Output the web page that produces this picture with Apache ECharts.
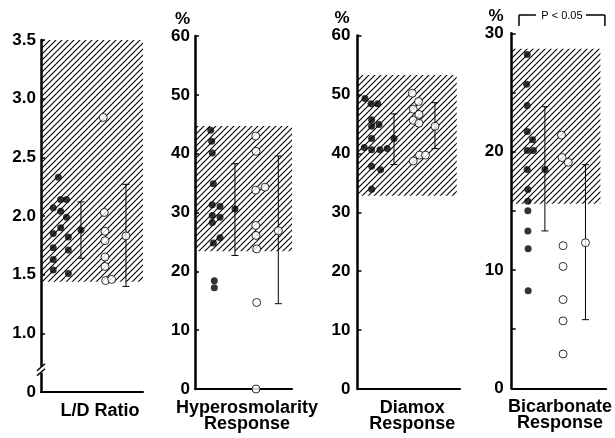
<!DOCTYPE html>
<html><head><meta charset="utf-8">
<script src="https://cdn.jsdelivr.net/npm/echarts@6/dist/echarts.min.js"></script>
<style>html,body{margin:0;padding:0;background:#fff}#c{width:615px;height:438px}</style>
</head><body><div id="c"></div>
<script>
// ---------- DATA ----------
const panelNames = ['L/D Ratio', 'Hyperosmolarity\nResponse', 'Diamox\nResponse', 'Bicarbonate\nResponse'];
// Each point: [column jitter position (0-10), value]
// Panel 1: L/D ratio
const ldFilled = [[1.7,2.33],[1.93,2.14],[2.5,2.14],[1.2,2.07],[1.93,2.04],[2.5,1.99],[1.93,1.90],[1.2,1.85],[2.68,1.82],[1.2,1.73],[2.68,1.71],[1.2,1.63],[1.2,1.54],[2.68,1.51]];
const ldOpen = [[6.1,2.84],[6.2,2.03],[6.27,1.87],[6.27,1.79],[6.27,1.65],[6.27,1.57],[6.34,1.45],[6.93,1.46]];
const ldStats = [[3.92,1.88,1.64,2.12],[8.33,1.83,1.40,2.27]]; // [pos, mean, low, high]
const ldNormal = [1.44, 3.5];
const ldTicks = [0.5, 3.5, 0.5]; // min, max, interval (bottom tick shown as 0 after axis break)
// Panel 2: Hyperosmolarity response (%)
const hyFilled = [[1.62,44.0],[1.72,42.1],[1.78,40.1],[1.89,34.9],[1.78,31.3],[2.58,31.0],[1.78,29.5],[2.58,29.2],[1.78,28.3],[2.58,25.7],[1.89,24.8],[1.99,18.4],[1.99,17.2]];
const hyOpen = [[6.26,43.0],[6.29,40.4],[6.26,33.8],[7.22,34.3],[6.26,27.8],[6.29,26.1],[6.36,23.8],[6.36,14.7],[6.29,0]];
const hyStats = [[4.12,30.6,22.7,38.3],[8.59,26.9,14.5,39.6]];
const hyNormal = [23.4, 44.7];
const hyTicks = [0, 60, 10];
// Panel 3: Diamox response (%)
const dxFilled = [[0.73,49.3],[1.32,48.4],[1.97,48.4],[1.38,45.7],[1.38,44.6],[2.1,44.9],[1.38,42.5],[0.66,41.0],[1.38,40.6],[2.19,40.6],[2.9,40.8],[1.38,37.8],[2.25,37.2],[1.38,33.9]];
const dxOpen = [[5.35,50.2],[5.95,48.8],[5.44,47.5],[6.0,46.6],[5.44,45.6],[6.0,45.1],[5.44,38.7],[6.05,39.7],[6.63,39.7]];
const dxStats = [[3.56,42.5,38.1,46.7],[7.56,44.6,40.8,48.6]];
const dxNormal = [32.8, 53.3];
const dxTicks = [0, 60, 10];
// Panel 4: Bicarbonate response (%)
const bcFilled = [[1.64,28.2],[1.58,25.7],[1.64,23.9],[1.64,21.7],[2.2,21.0],[1.64,20.1],[2.3,20.1],[1.64,18.5],[1.71,16.8],[1.71,15.8],[1.71,15.0],[1.71,13.3],[1.74,11.8],[1.74,8.25]];
const bcOpen = [[5.26,21.4],[5.33,19.5],[5.98,19.1],[5.43,12.05],[5.43,10.3],[5.43,7.5],[5.43,5.7],[5.43,2.9]];
const bcStats = [[3.51,18.5,13.3,23.8],[7.8,12.3,5.8,18.9]];
const bcNormal = [15.6, 28.7];
const bcTicks = [0, 30, 10];
const pText = 'P < 0.05';

// ---------- LAYOUT ----------
const FONT = 'Liberation Sans, Arial, Helvetica, sans-serif';
const grids = [
  {left:41, top:40, width:102, height:352},
  {left:195, top:36, width:97, height:356},
  {left:357.5, top:35.5, width:102.5, height:355.5},
  {left:511.7, top:33.3, width:101.3, height:355}
];
const hatchRight = [10, 10, 9.68, 9.38];
const labelMargin = [5, 5, 7, 8];
const namePad = [[0,0,0,16],[0,0,0,7],[0,0,0,7],[0,0,0,2]];
const pctPad = [5, 5, 8, 8];
const pctGap = [4, 4, 4, 5];
const panels = [
  {filled:ldFilled, open:ldOpen, stats:ldStats, normal:ldNormal, ticks:ldTicks, pct:false},
  {filled:hyFilled, open:hyOpen, stats:hyStats, normal:hyNormal, ticks:hyTicks, pct:true},
  {filled:dxFilled, open:dxOpen, stats:dxStats, normal:dxNormal, ticks:dxTicks, pct:true},
  {filled:bcFilled, open:bcOpen, stats:bcStats, normal:bcNormal, ticks:bcTicks, pct:true, minor:true}
];

function hatchCanvas(){
  const s = 6, c = document.createElement('canvas');
  c.width = s; c.height = s;
  const g = c.getContext('2d');
  g.strokeStyle = '#000'; g.lineWidth = 1.1;
  g.beginPath();
  g.moveTo(0, s); g.lineTo(s, 0);
  g.moveTo(-1, 1); g.lineTo(1, -1);
  g.moveTo(s-1, s+1); g.lineTo(s+1, s-1);
  g.stroke();
  return c;
}
const hatch = hatchCanvas();

function errRender(params, api){
  const x = api.value(0), lo = api.value(2), hi = api.value(3);
  const a = api.coord([x, lo]), b = api.coord([x, hi]);
  const w = 3.5, st = {stroke:'#000', lineWidth:1};
  return {type:'group', children:[
    {type:'line', shape:{x1:a[0], y1:a[1], x2:b[0], y2:b[1]}, style:st},
    {type:'line', shape:{x1:a[0]-w, y1:a[1], x2:a[0]+w, y2:a[1]}, style:st},
    {type:'line', shape:{x1:b[0]-w, y1:b[1], x2:b[0]+w, y2:b[1]}, style:st}
  ]};
}

const xAxes = [], yAxes = [], series = [];
panels.forEach((p, i) => {
  xAxes.push({
    type:'value', gridIndex:i, min:0, max:10,
    axisLine:{show:true, onZero:false, lineStyle:{color:'#000', width:2}},
    axisTick:{show:false}, axisLabel:{show:false}, splitLine:{show:false},
    name: panelNames[i], nameLocation:'middle', nameGap:11,
    nameTextStyle:{fontFamily:FONT, fontSize:18, fontWeight:'bold', color:'#000', lineHeight:16, padding:namePad[i]}
  });
  yAxes.push({
    type:'value', gridIndex:i, min:p.ticks[0], max:p.ticks[1], interval:p.ticks[2],
    axisLine:{show:true, lineStyle:{color:'#000', width:2.5}},
    axisTick:{show:true, inside:true, length:4, lineStyle:{color:'#000', width:1.5}},
    minorTick:{show:!!p.minor, splitNumber:2, length:4, lineStyle:{color:'#000', width:1.5}},
    splitLine:{show:false},
    axisLabel:{fontFamily:FONT, fontSize:17, fontWeight:'bold', color:'#000', margin:labelMargin[i],
      formatter: i === 0 ? (v => v === p.ticks[0] ? '0' : v.toFixed(1)) : (v => String(v))},
    name: p.pct ? '%' : '', nameLocation:'end', nameGap:pctGap[i],
    nameTextStyle:{fontFamily:FONT, fontSize:17, fontWeight:'bold', color:'#000', align:'right', padding:[0,pctPad[i],0,0]}
  });
  series.push({
    type:'scatter', xAxisIndex:i, yAxisIndex:i, data:p.filled, symbol:'circle', symbolSize:7,
    itemStyle:{color:'#000'}, z:5,
    markArea:{silent:true, itemStyle:{color:{image:hatch, repeat:'repeat'}},
      data:[[{xAxis:0, yAxis:p.normal[0]},{xAxis:hatchRight[i], yAxis:p.normal[1]}]]}
  });
  series.push({
    type:'scatter', xAxisIndex:i, yAxisIndex:i, data:p.open, symbol:'circle', symbolSize:8,
    itemStyle:{color:'#fff', borderColor:'#000', borderWidth:1}, z:5
  });
  series.push({
    type:'custom', xAxisIndex:i, yAxisIndex:i, data:p.stats, renderItem:errRender,
    encode:{x:0, y:[1,2,3]}, z:4, silent:true
  });
  series.push({
    type:'scatter', xAxisIndex:i, yAxisIndex:i, data:[p.stats[0].slice(0,2)], symbol:'circle', symbolSize:7,
    itemStyle:{color:'#000'}, z:6
  });
  series.push({
    type:'scatter', xAxisIndex:i, yAxisIndex:i, data:[p.stats[1].slice(0,2)], symbol:'circle', symbolSize:8,
    itemStyle:{color:'#fff', borderColor:'#000', borderWidth:1}, z:6
  });
});

const chart = echarts.init(document.getElementById('c'), null, {renderer:'canvas'});
chart.setOption({
  animation:false, backgroundColor:'#fff',
  grid: grids.map(g => Object.assign({containLabel:false}, g)),
  xAxis:xAxes, yAxis:yAxes, series:series
});

// Axis break mark on panel 1 and significance bracket on panel 4
const by = chart.convertToPixel({yAxisIndex:0}, 0.69);
const ax = grids[0].left;
const g3 = grids[3];
const bL = g3.left + 0.72 * g3.width / 10, bR = g3.left + 9.2 * g3.width / 10;
const bTop = 15, bBot = 26, tc = (bL + bR) / 2;
const ls = {stroke:'#000', lineWidth:1.5};
chart.setOption({
  graphic:[
    {type:'rect', shape:{x:ax-2, y:by-3, width:4, height:6}, style:{fill:'#fff'}, z:100},
    {type:'line', shape:{x1:ax-4, y1:by+1, x2:ax+4, y2:by-6}, style:ls, z:101},
    {type:'line', shape:{x1:ax-4, y1:by+6, x2:ax+4, y2:by-1}, style:ls, z:101},
    {type:'line', shape:{x1:bL, y1:bBot, x2:bL, y2:bTop}, style:ls, z:101},
    {type:'line', shape:{x1:bL, y1:bTop, x2:tc-26, y2:bTop}, style:ls, z:101},
    {type:'line', shape:{x1:tc+24, y1:bTop, x2:bR, y2:bTop}, style:ls, z:101},
    {type:'line', shape:{x1:bR, y1:bTop, x2:bR, y2:bBot}, style:ls, z:101},
    {type:'text', x:tc, y:bTop+1, style:{text:pText, font:'11px '+FONT, fill:'#000', textAlign:'center', textVerticalAlign:'middle'}, z:101}
  ]
});
</script></body></html>
